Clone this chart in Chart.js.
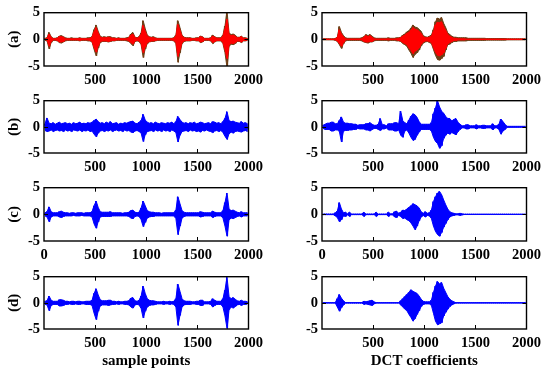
<!DOCTYPE html>
<html><head><meta charset="utf-8">
<script src="https://cdn.jsdelivr.net/npm/chart.js@4.4.1/dist/chart.umd.min.js"></script>
<style>
html,body{margin:0;padding:0;background:#fff;width:550px;height:373px;overflow:hidden}
body{position:relative}
canvas{position:absolute}
</style></head><body>
<script>
// ---------- DATA (envelope per 20-sample bin: upper / lower extreme) ----------
const binSize = 20;
const xTicksWithZero = [0, 500, 1000, 1500, 2000];
const xTicksNoZero = [500, 1000, 1500, 2000];
const yTicks = [-5, 0, 5];
const rowLabels = ['(a)', '(b)', '(c)', '(d)'];
const xTitles = ['sample points', 'DCT coefficients'];

// (a) time domain, dark trace
const aTimeHi = [
 0.2,0.3,1.3,0.5,0.2,0.2,0.3,0.6,0.7,0.5,
 0.3,0.2,0.2,0.3,0.2,0.2,0.2,0.3,0.2,0.2,
 0.2,0.3,0.3,0.5,1.8,2.7,1.5,0.6,0.4,0.5,
 0.4,0.5,0.5,0.3,0.3,0.2,0.3,0.2,0.2,0.2,
 0.3,0.4,1.0,1.3,0.4,0.3,0.5,1.2,3.5,2.0,
 0.8,0.5,0.4,0.5,0.3,0.2,0.2,0.2,0.2,0.2,
 0.2,0.2,0.2,0.3,0.8,3.5,2.2,0.8,0.4,0.3,
 0.3,0.3,0.2,0.2,0.3,0.3,0.6,0.5,0.2,0.2,
 0.2,0.3,0.8,0.5,0.3,0.3,0.3,0.8,2.5,5.3,
 1.2,0.9,1.0,0.8,0.4,0.4,0.6,0.3,0.3,0.2];
const aTimeLo = [
 -0.2,-0.3,-1.8,-0.6,-0.2,-0.2,-0.3,-0.6,-0.7,-0.5,
 -0.3,-0.2,-0.2,-0.2,-0.2,-0.2,-0.2,-0.3,-0.2,-0.2,
 -0.2,-0.3,-0.3,-0.5,-1.9,-3.1,-1.6,-0.6,-0.4,-0.4,
 -0.4,-0.5,-0.4,-0.3,-0.3,-0.2,-0.2,-0.2,-0.2,-0.2,
 -0.3,-0.4,-0.8,-1.2,-0.4,-0.3,-0.4,-1.0,-3.4,-1.8,
 -0.8,-0.5,-0.4,-0.4,-0.3,-0.2,-0.2,-0.2,-0.2,-0.2,
 -0.2,-0.2,-0.2,-0.3,-0.8,-4.3,-2.5,-0.8,-0.4,-0.3,
 -0.3,-0.3,-0.2,-0.2,-0.3,-0.3,-0.6,-0.5,-0.2,-0.2,
 -0.2,-0.3,-0.8,-0.5,-0.3,-0.3,-0.3,-0.8,-2.5,-5.3,
 -1.3,-0.9,-1.0,-0.8,-0.4,-0.4,-0.6,-0.3,-0.3,-0.2];
// (a) time domain, red trace
const aTimeRedHi = [
 0.05,0.1,1.0,0.4,0.1,0.1,0.2,0.5,0.5,0.4,
 0.1,0.1,0.1,0.1,0.1,0.1,0.1,0.2,0.1,0.1,
 0.1,0.1,0.2,0.4,1.4,2.2,1.2,0.4,0.3,0.3,
 0.3,0.4,0.3,0.2,0.2,0.1,0.2,0.1,0.1,0.1,
 0.1,0.3,0.8,1.0,0.3,0.2,0.4,0.9,2.6,1.5,
 0.6,0.4,0.3,0.3,0.2,0.1,0.1,0.1,0.1,0.1,
 0.1,0.1,0.1,0.2,0.6,2.8,1.7,0.6,0.3,0.2,
 0.2,0.2,0.1,0.1,0.2,0.2,0.5,0.4,0.1,0.1,
 0.1,0.2,0.6,0.4,0.2,0.2,0.2,0.6,1.9,3.8,
 0.9,0.7,0.8,0.6,0.3,0.3,0.5,0.2,0.2,0.1];
const aTimeRedLo = [
 -0.05,-0.1,-1.3,-0.4,-0.1,-0.1,-0.2,-0.5,-0.5,-0.4,
 -0.1,-0.1,-0.1,-0.1,-0.1,-0.1,-0.1,-0.2,-0.1,-0.1,
 -0.1,-0.1,-0.2,-0.4,-1.5,-2.4,-1.2,-0.4,-0.3,-0.3,
 -0.3,-0.4,-0.3,-0.2,-0.2,-0.1,-0.1,-0.1,-0.1,-0.1,
 -0.1,-0.3,-0.6,-0.9,-0.3,-0.2,-0.3,-0.8,-2.5,-1.4,
 -0.6,-0.4,-0.3,-0.3,-0.2,-0.1,-0.1,-0.1,-0.1,-0.1,
 -0.1,-0.1,-0.1,-0.2,-0.6,-3.2,-1.9,-0.6,-0.3,-0.2,
 -0.2,-0.2,-0.1,-0.1,-0.2,-0.2,-0.5,-0.4,-0.1,-0.1,
 -0.1,-0.2,-0.6,-0.4,-0.2,-0.2,-0.2,-0.6,-1.9,-3.6,
 -1.0,-0.7,-0.8,-0.6,-0.3,-0.3,-0.5,-0.2,-0.2,-0.1];
// (b) time domain (noisy)
const bTimeHi = [
 0.6,1.7,0.7,0.6,0.8,0.5,0.7,0.9,0.6,0.7,
 0.8,0.6,0.7,0.5,0.8,0.6,0.7,0.9,0.6,0.7,
 0.6,0.8,0.7,0.9,1.2,1.5,1.0,0.7,0.8,0.6,
 0.9,0.7,1.0,0.6,0.7,0.8,0.5,0.7,0.6,0.8,
 0.7,0.9,1.0,1.1,0.7,0.6,0.9,1.2,2.4,1.3,
 0.9,0.7,0.8,0.6,0.9,0.7,0.6,0.8,0.7,0.6,
 0.8,0.7,0.9,0.6,1.0,2.0,1.4,0.9,0.7,0.8,
 0.6,0.8,0.7,0.9,0.6,0.7,0.9,0.8,0.6,0.7,
 0.8,0.6,1.0,0.9,0.7,0.8,0.6,1.0,1.6,2.9,
 1.2,1.0,1.1,0.9,0.8,0.7,1.0,0.7,0.8,0.6];
const bTimeLo = [
 -0.7,-0.9,-0.8,-0.6,-0.9,-0.7,-0.6,-0.8,-0.7,-0.9,
 -0.6,-0.8,-0.7,-0.9,-0.6,-0.7,-0.8,-0.6,-0.9,-0.7,
 -0.8,-0.6,-0.9,-0.8,-1.4,-1.9,-1.2,-0.8,-0.7,-0.9,
 -0.7,-0.8,-0.6,-0.9,-0.7,-0.6,-0.8,-0.7,-0.9,-0.6,
 -0.8,-0.7,-1.0,-1.1,-0.8,-0.7,-0.9,-1.2,-2.8,-1.5,
 -0.9,-0.8,-0.7,-0.9,-0.6,-0.8,-0.7,-0.9,-0.6,-0.8,
 -0.7,-0.9,-0.6,-0.8,-1.1,-2.9,-1.6,-0.9,-0.8,-0.7,
 -0.9,-0.6,-0.8,-0.7,-0.9,-0.8,-1.0,-0.7,-0.8,-0.6,
 -0.8,-0.9,-1.1,-0.8,-0.7,-0.9,-0.7,-1.1,-1.8,-2.4,
 -1.3,-1.0,-1.2,-0.9,-0.8,-0.9,-1.0,-0.8,-0.7,-0.9];
// (c) time domain
const cTimeHi = [
 0.3,0.5,1.4,0.5,0.3,0.3,0.3,0.5,0.6,0.4,
 0.3,0.3,0.2,0.3,0.3,0.2,0.3,0.3,0.3,0.2,
 0.3,0.3,0.3,0.5,1.6,2.5,1.3,0.5,0.4,0.4,
 0.4,0.4,0.5,0.3,0.3,0.3,0.3,0.3,0.2,0.3,
 0.3,0.4,0.7,0.8,0.4,0.3,0.4,1.2,2.5,1.6,
 0.7,0.5,0.4,0.4,0.3,0.3,0.3,0.2,0.3,0.3,
 0.3,0.3,0.3,0.3,0.8,3.3,2.0,0.7,0.4,0.3,
 0.3,0.3,0.3,0.3,0.3,0.3,0.5,0.4,0.3,0.3,
 0.3,0.3,0.6,0.4,0.3,0.3,0.3,0.7,2.2,4.0,
 1.0,0.7,0.8,0.6,0.4,0.3,0.5,0.3,0.3,0.3];
const cTimeLo = [
 -0.3,-0.5,-1.4,-0.5,-0.3,-0.3,-0.3,-0.5,-0.6,-0.4,
 -0.3,-0.3,-0.3,-0.3,-0.2,-0.3,-0.3,-0.3,-0.2,-0.3,
 -0.3,-0.3,-0.3,-0.5,-1.8,-2.6,-1.4,-0.5,-0.4,-0.4,
 -0.4,-0.4,-0.4,-0.3,-0.3,-0.3,-0.3,-0.3,-0.3,-0.3,
 -0.3,-0.4,-0.7,-0.8,-0.4,-0.3,-0.4,-1.0,-2.3,-1.5,
 -0.7,-0.5,-0.4,-0.4,-0.3,-0.3,-0.3,-0.3,-0.3,-0.3,
 -0.3,-0.3,-0.3,-0.3,-0.8,-3.8,-2.2,-0.7,-0.4,-0.3,
 -0.3,-0.3,-0.3,-0.3,-0.3,-0.3,-0.5,-0.4,-0.3,-0.3,
 -0.3,-0.3,-0.6,-0.4,-0.3,-0.3,-0.3,-0.7,-2.2,-4.1,
 -1.0,-0.7,-0.8,-0.6,-0.4,-0.3,-0.5,-0.3,-0.3,-0.3];
// (d) time domain
const dTimeHi = [
 0.3,0.4,1.3,0.5,0.3,0.3,0.3,0.6,0.6,0.5,
 0.3,0.3,0.2,0.3,0.3,0.2,0.3,0.3,0.2,0.2,
 0.3,0.3,0.3,0.5,1.8,2.7,1.5,0.6,0.4,0.4,
 0.4,0.5,0.5,0.3,0.3,0.2,0.3,0.2,0.2,0.3,
 0.3,0.4,0.9,1.0,0.4,0.3,0.5,1.3,3.2,1.8,
 0.8,0.5,0.4,0.4,0.3,0.2,0.2,0.2,0.3,0.2,
 0.2,0.3,0.2,0.3,0.8,3.6,2.2,0.8,0.4,0.3,
 0.3,0.3,0.2,0.2,0.3,0.3,0.5,0.5,0.2,0.2,
 0.2,0.3,0.8,0.5,0.3,0.3,0.3,0.8,2.4,4.9,
 1.2,0.8,1.0,0.7,0.4,0.3,0.5,0.3,0.3,0.2];
const dTimeLo = [
 -0.3,-0.4,-1.5,-0.5,-0.3,-0.3,-0.3,-0.6,-0.6,-0.5,
 -0.3,-0.3,-0.2,-0.3,-0.3,-0.2,-0.3,-0.3,-0.2,-0.2,
 -0.3,-0.3,-0.3,-0.5,-2.0,-3.2,-1.6,-0.6,-0.4,-0.4,
 -0.4,-0.5,-0.4,-0.3,-0.3,-0.2,-0.3,-0.2,-0.2,-0.3,
 -0.3,-0.4,-0.8,-1.0,-0.4,-0.3,-0.4,-1.1,-2.9,-1.6,
 -0.8,-0.5,-0.4,-0.4,-0.3,-0.2,-0.2,-0.2,-0.3,-0.2,
 -0.2,-0.3,-0.2,-0.3,-0.8,-4.3,-2.4,-0.8,-0.4,-0.3,
 -0.3,-0.3,-0.2,-0.2,-0.3,-0.3,-0.5,-0.5,-0.2,-0.2,
 -0.2,-0.3,-0.8,-0.5,-0.3,-0.3,-0.3,-0.8,-2.5,-4.9,
 -1.3,-0.8,-1.0,-0.7,-0.4,-0.3,-0.5,-0.3,-0.3,-0.2];

// (a) DCT, dark trace
const aDctHi = [
 0.1,0.1,0.1,0.1,0.1,0.1,0.2,0.4,2.4,1.3,
 0.7,0.3,0.2,0.2,0.2,0.2,0.2,0.2,0.2,0.3,
 0.5,0.9,0.7,0.9,0.6,0.3,0.2,0.2,0.2,0.2,
 0.2,0.2,0.3,0.2,0.2,0.2,0.3,0.3,0.4,0.8,
 1.0,1.4,1.6,2.1,2.7,2.3,2.2,1.9,1.5,0.7,
 0.5,0.4,0.6,0.8,1.8,3.3,4.0,3.8,4.1,3.0,
 2.2,1.2,0.9,0.6,0.4,0.4,0.3,0.3,0.3,0.3,
 0.3,0.2,0.2,0.2,0.2,0.2,0.2,0.2,0.2,0.2,
 0.15,0.15,0.15,0.15,0.15,0.15,0.15,0.15,0.15,0.15,
 0.1,0.1,0.1,0.1,0.1,0.1,0.1,0.1,0.1,0.1];
const aDctLo = [
 -0.1,-0.1,-0.1,-0.1,-0.1,-0.1,-0.2,-0.4,-1.0,-1.7,
 -0.8,-0.3,-0.2,-0.2,-0.2,-0.2,-0.2,-0.2,-0.2,-0.3,
 -0.5,-0.6,-0.7,-0.5,-0.5,-0.3,-0.2,-0.2,-0.2,-0.2,
 -0.2,-0.2,-0.3,-0.2,-0.2,-0.2,-0.3,-0.3,-0.4,-0.8,
 -1.0,-1.3,-2.0,-2.6,-3.4,-2.8,-2.5,-2.0,-1.2,-0.7,
 -0.5,-0.4,-0.6,-0.8,-1.9,-3.0,-3.8,-3.9,-3.6,-3.2,
 -2.0,-1.0,-0.9,-0.6,-0.4,-0.4,-0.3,-0.3,-0.3,-0.3,
 -0.3,-0.2,-0.2,-0.2,-0.2,-0.2,-0.2,-0.2,-0.2,-0.2,
 -0.15,-0.15,-0.15,-0.15,-0.15,-0.15,-0.15,-0.15,-0.15,-0.15,
 -0.1,-0.1,-0.1,-0.1,-0.1,-0.1,-0.1,-0.1,-0.1,-0.1];
// (a) DCT, red trace
const aDctRedHi = [
 0.03,0.03,0.03,0.03,0.03,0.03,0.1,0.3,1.8,1.0,
 0.5,0.1,0.05,0.05,0.05,0.05,0.05,0.05,0.05,0.1,
 0.4,0.7,0.5,0.7,0.4,0.1,0.05,0.05,0.05,0.05,
 0.05,0.05,0.1,0.05,0.05,0.05,0.1,0.2,0.3,0.6,
 0.8,1.1,1.3,1.7,2.2,1.9,1.8,1.5,1.1,0.5,
 0.3,0.3,0.4,0.6,1.4,2.7,3.2,3.1,3.3,2.4,
 1.7,0.9,0.6,0.4,0.2,0.2,0.1,0.1,0.1,0.1,
 0.03,0.03,0.03,0.03,0.03,0.03,0.03,0.03,0.03,0.03,
 0.03,0.03,0.03,0.03,0.03,0.03,0.03,0.03,0.03,0.03,
 0.03,0.03,0.03,0.03,0.03,0.03,0.03,0.03,0.03,0.03];
const aDctRedLo = [
 -0.03,-0.03,-0.03,-0.03,-0.03,-0.03,-0.1,-0.3,-0.8,-1.3,
 -0.6,-0.1,-0.05,-0.05,-0.05,-0.05,-0.05,-0.05,-0.05,-0.1,
 -0.4,-0.5,-0.5,-0.4,-0.4,-0.1,-0.05,-0.05,-0.05,-0.05,
 -0.05,-0.05,-0.1,-0.05,-0.05,-0.05,-0.1,-0.2,-0.3,-0.6,
 -0.8,-1.0,-1.6,-2.1,-2.7,-2.2,-2.0,-1.6,-0.9,-0.5,
 -0.3,-0.3,-0.4,-0.6,-1.5,-2.4,-3.0,-3.1,-2.9,-2.5,
 -1.6,-0.8,-0.6,-0.4,-0.2,-0.2,-0.1,-0.1,-0.1,-0.1,
 -0.03,-0.03,-0.03,-0.03,-0.03,-0.03,-0.03,-0.03,-0.03,-0.03,
 -0.03,-0.03,-0.03,-0.03,-0.03,-0.03,-0.03,-0.03,-0.03,-0.03,
 -0.03,-0.03,-0.03,-0.03,-0.03,-0.03,-0.03,-0.03,-0.03,-0.03];
// (b) DCT
const bDctHi = [
 0.3,0.5,0.7,0.7,0.9,0.9,0.6,0.6,1.2,1.9,
 0.9,0.7,0.7,0.6,0.6,0.5,0.5,0.3,0.4,0.4,
 0.4,0.6,0.6,0.8,0.5,0.3,0.3,0.5,1.6,0.4,
 0.4,0.2,0.6,0.6,0.6,0.8,0.8,0.6,3.0,1.2,
 0.8,0.6,1.3,2.0,2.5,2.3,1.8,1.0,0.5,0.5,
 0.5,0.5,0.5,0.8,2.5,3.6,5.0,3.8,3.0,2.6,
 2.0,1.6,1.6,1.1,1.4,1.6,0.9,0.5,0.2,0.2,
 0.4,0.4,0.2,0.2,0.2,0.4,0.2,0.2,0.3,0.3,
 0.2,0.2,0.2,0.6,0.2,0.2,0.5,1.5,1.0,0.5,
 0.1,0.1,0.1,0.1,0.1,0.1,0.1,0.1,0.1,0.1];
const bDctLo = [
 -0.3,-0.5,-0.5,-0.5,-0.8,-0.8,-0.6,-0.6,-0.9,-2.9,
 -0.8,-0.7,-0.7,-0.6,-0.6,-0.5,-0.5,-0.3,-0.4,-0.4,
 -0.4,-0.6,-0.6,-0.8,-0.5,-0.3,-0.3,-0.5,-0.7,-0.4,
 -0.4,-0.2,-0.6,-0.6,-0.6,-0.8,-0.8,-0.6,-1.6,-2.0,
 -0.8,-0.6,-1.2,-2.0,-2.6,-2.4,-1.6,-1.0,-0.5,-0.5,
 -0.5,-0.5,-0.5,-0.8,-2.0,-2.8,-3.2,-4.1,-3.6,-2.2,
 -1.6,-1.2,-1.4,-1.1,-1.3,-1.5,-0.9,-0.5,-0.2,-0.2,
 -0.4,-0.4,-0.2,-0.2,-0.2,-0.4,-0.2,-0.2,-0.3,-0.3,
 -0.2,-0.2,-0.2,-0.6,-0.2,-0.2,-0.5,-1.4,-0.8,-0.5,
 -0.1,-0.1,-0.1,-0.1,-0.1,-0.1,-0.1,-0.1,-0.1,-0.1];
// (c) DCT
const cDctHi = [
 0.05,0.05,0.05,0.05,0.05,0.05,0.3,0.6,2.2,1.0,
 0.3,0.4,0.1,0.4,0.05,0.05,0.05,0.05,0.05,0.05,
 0.4,0.05,0.05,0.05,0.05,0.05,0.4,0.05,0.05,0.05,
 0.05,0.05,0.4,0.1,0.1,0.5,0.6,0.2,0.4,0.8,
 0.7,1.0,1.3,1.6,2.0,1.8,1.6,1.2,0.5,0.2,
 0.5,0.2,0.3,0.8,2.4,3.3,4.0,4.3,3.7,2.7,
 1.8,1.0,0.5,0.3,0.2,0.1,0.1,0.2,0.1,0.03,
 0.03,0.03,0.03,0.03,0.03,0.03,0.03,0.03,0.03,0.03,
 0.03,0.03,0.03,0.03,0.03,0.03,0.03,0.03,0.03,0.03,
 0.03,0.03,0.03,0.03,0.03,0.03,0.03,0.03,0.03,0.03];
const cDctLo = [
 -0.05,-0.05,-0.05,-0.05,-0.05,-0.05,-0.3,-0.6,-1.4,-1.0,
 -0.3,-0.4,-0.1,-0.4,-0.05,-0.05,-0.05,-0.05,-0.05,-0.05,
 -0.4,-0.05,-0.05,-0.05,-0.05,-0.05,-0.4,-0.05,-0.05,-0.05,
 -0.05,-0.05,-0.4,-0.1,-0.1,-0.5,-0.6,-0.2,-0.4,-0.8,
 -0.7,-1.0,-1.2,-1.6,-2.2,-2.9,-2.2,-1.2,-0.5,-0.2,
 -0.5,-0.2,-0.3,-0.8,-2.2,-3.2,-3.8,-4.1,-3.4,-2.4,
 -1.7,-1.0,-0.5,-0.3,-0.2,-0.1,-0.1,-0.2,-0.1,-0.03,
 -0.03,-0.03,-0.03,-0.03,-0.03,-0.03,-0.03,-0.03,-0.03,-0.03,
 -0.03,-0.03,-0.03,-0.03,-0.03,-0.03,-0.03,-0.03,-0.03,-0.03,
 -0.03,-0.03,-0.03,-0.03,-0.03,-0.03,-0.03,-0.03,-0.03,-0.03];
// (d) DCT
const dDctHi = [
 0.03,0.03,0.03,0.03,0.03,0.03,0.03,0.8,1.6,0.9,
 0.4,0.05,0.05,0.05,0.05,0.05,0.05,0.05,0.05,0.05,
 0.3,0.2,0.3,0.4,0.5,0.2,0.03,0.03,0.03,0.03,
 0.03,0.03,0.03,0.03,0.03,0.03,0.03,0.03,0.4,0.8,
 1.2,1.6,2.0,2.5,2.2,2.0,1.8,1.3,0.7,0.3,
 0.2,0.2,0.2,0.5,2.0,3.2,4.1,3.6,3.9,2.8,
 2.0,1.2,0.7,0.4,0.2,0.03,0.03,0.03,0.03,0.03,
 0.03,0.03,0.03,0.03,0.03,0.03,0.03,0.03,0.03,0.03,
 0.03,0.03,0.03,0.03,0.03,0.03,0.03,0.03,0.03,0.03,
 0.03,0.03,0.03,0.03,0.03,0.03,0.03,0.03,0.03,0.03];
const dDctLo = [
 -0.03,-0.03,-0.03,-0.03,-0.03,-0.03,-0.03,-0.8,-1.6,-0.9,
 -0.4,-0.05,-0.05,-0.05,-0.05,-0.05,-0.05,-0.05,-0.05,-0.05,
 -0.3,-0.2,-0.3,-0.4,-0.5,-0.2,-0.03,-0.03,-0.03,-0.03,
 -0.03,-0.03,-0.03,-0.03,-0.03,-0.03,-0.03,-0.03,-0.4,-0.8,
 -1.2,-1.5,-2.2,-2.8,-3.5,-3.0,-2.2,-1.5,-0.7,-0.3,
 -0.2,-0.2,-0.2,-0.5,-2.0,-3.5,-4.2,-4.0,-3.8,-2.5,
 -1.8,-1.2,-0.7,-0.4,-0.2,-0.03,-0.03,-0.03,-0.03,-0.03,
 -0.03,-0.03,-0.03,-0.03,-0.03,-0.03,-0.03,-0.03,-0.03,-0.03,
 -0.03,-0.03,-0.03,-0.03,-0.03,-0.03,-0.03,-0.03,-0.03,-0.03,
 -0.03,-0.03,-0.03,-0.03,-0.03,-0.03,-0.03,-0.03,-0.03,-0.03];

// ---------- STYLE / LAYOUT ----------
const DARK = '#6e3f17', RED = '#ff0000', BLUE = '#0000ff';
const FONT_FAMILY = "'Liberation Serif', 'Times New Roman', serif";
const rowTop = [10, 98, 185, 274];
const rowH = [56, 55, 56, 55];
const colCanvasLeft = [0, 286];
const colAxisW = [44, 36];
const colCanvasW = [269, 261];
const PAD_TOP = 10, PAD_RIGHT = 18;

// traces listed bottom-to-top
const panels = [
  {r:0, c:0, traces:[[aTimeHi, aTimeLo, DARK], [aTimeRedHi, aTimeRedLo, RED]], xt: xTicksNoZero},
  {r:0, c:1, traces:[[aDctHi, aDctLo, DARK], [aDctRedHi, aDctRedLo, RED]], xt: xTicksNoZero},
  {r:1, c:0, traces:[[bTimeHi, bTimeLo, BLUE]], xt: xTicksNoZero},
  {r:1, c:1, traces:[[bDctHi, bDctLo, BLUE]], xt: xTicksNoZero},
  {r:2, c:0, traces:[[cTimeHi, cTimeLo, BLUE]], xt: xTicksWithZero},
  {r:2, c:1, traces:[[cDctHi, cDctLo, BLUE]], xt: xTicksWithZero},
  {r:3, c:0, traces:[[dTimeHi, dTimeLo, BLUE]], xt: xTicksNoZero},
  {r:3, c:1, traces:[[dDctHi, dDctLo, BLUE]], xt: xTicksNoZero},
];

function centers(arr) { return arr.map((v, i) => ({x: i * binSize + binSize / 2, y: v})); }
function zigzag(hi, lo) {
  const pts = [];
  for (let i = 0; i < hi.length; i++) {
    pts.push({x: i * binSize + binSize * 0.25, y: hi[i]});
    pts.push({x: i * binSize + binSize * 0.75, y: lo[i]});
  }
  return pts;
}

const framePlugin = {
  id: 'frame',
  afterDraw(chart) {
    const {ctx, chartArea: a, scales: {x, y}} = chart;
    ctx.save();
    ctx.strokeStyle = '#000';
    ctx.lineWidth = 1;
    ctx.beginPath();
    const TL = 4;
    x.ticks.forEach(t => {
      const px = Math.round(x.getPixelForValue(t.value)) + 0.5;
      if (px - a.left < 2 || a.right - px < 2) return;
      ctx.moveTo(px, a.bottom); ctx.lineTo(px, a.bottom - TL);
      ctx.moveTo(px, a.top); ctx.lineTo(px, a.top + TL);
    });
    y.ticks.forEach(t => {
      const py = Math.round(y.getPixelForValue(t.value)) + 0.5;
      if (py - a.top < 2 || a.bottom - py < 2) return;
      ctx.moveTo(a.left, py); ctx.lineTo(a.left + TL, py);
      ctx.moveTo(a.right, py); ctx.lineTo(a.right - TL, py);
    });
    ctx.stroke();
    ctx.lineWidth = 1.4;
    ctx.strokeRect(a.left, a.top, a.right - a.left, a.bottom - a.top);
    ctx.restore();
  }
};

panels.forEach(p => {
  const isBottom = p.r === 3;
  const xAxisH = isBottom ? 44 : 26;
  const cv = document.createElement('canvas');
  const W = colCanvasW[p.c];
  const H = PAD_TOP + rowH[p.r] + xAxisH;
  cv.width = W; cv.height = H;
  cv.style.left = colCanvasLeft[p.c] + 'px';
  cv.style.top = (rowTop[p.r] - PAD_TOP) + 'px';
  cv.style.width = W + 'px'; cv.style.height = H + 'px';
  document.body.appendChild(cv);
  const tickFont = {family: FONT_FAMILY, size: 14.5, weight: 'bold'};
  const titleFont = {family: FONT_FAMILY, size: 15, weight: 'bold'};
  const datasets = [];
  const n = p.traces.length;
  p.traces.forEach((t, k) => {
    const ord = n - 1 - k; // later traces on top
    const col = t[2];
    datasets.push({data: centers(t[0]), borderColor: col, backgroundColor: col, borderWidth: 1,
                   pointRadius: 0, tension: 0, fill: '+1', order: ord});
    datasets.push({data: centers(t[1]), borderColor: col, backgroundColor: col, borderWidth: 1,
                   pointRadius: 0, tension: 0, fill: false, order: ord});
    datasets.push({data: zigzag(t[0], t[1]), borderColor: col, borderWidth: 1,
                   pointRadius: 0, tension: 0, fill: false, order: ord});
  });
  new Chart(cv, {
    type: 'line',
    data: {datasets},
    options: {
      responsive: false,
      animation: false,
      devicePixelRatio: 1,
      layout: {padding: {top: PAD_TOP, right: PAD_RIGHT, left: 0, bottom: 0}},
      plugins: {legend: {display: false}, tooltip: {enabled: false}},
      scales: {
        x: {
          type: 'linear', min: 0, max: 2000,
          afterBuildTicks: s => { s.ticks = p.xt.map(v => ({value: v})); },
          afterFit: s => { s.height = xAxisH; },
          ticks: {font: tickFont, color: '#000', padding: 6, maxRotation: 0, autoSkip: false,
                  callback: v => String(v)},
          grid: {display: false, drawTicks: false}, border: {display: false},
          title: {display: isBottom, text: xTitles[p.c], font: titleFont, color: '#000',
                  padding: {top: 0, bottom: 3}}
        },
        y: {
          type: 'linear', min: -5, max: 5,
          afterBuildTicks: s => { s.ticks = yTicks.map(v => ({value: v})); },
          afterFit: s => { s.width = colAxisW[p.c]; },
          ticks: {font: tickFont, color: '#000', padding: 4, callback: v => String(v)},
          grid: {display: false, drawTicks: false}, border: {display: false},
          title: {display: p.c === 0, text: rowLabels[p.r], font: titleFont, color: '#000',
                  padding: {top: 5, bottom: 0}}
        }
      }
    },
    plugins: [framePlugin]
  });
});
</script>
</body></html>
